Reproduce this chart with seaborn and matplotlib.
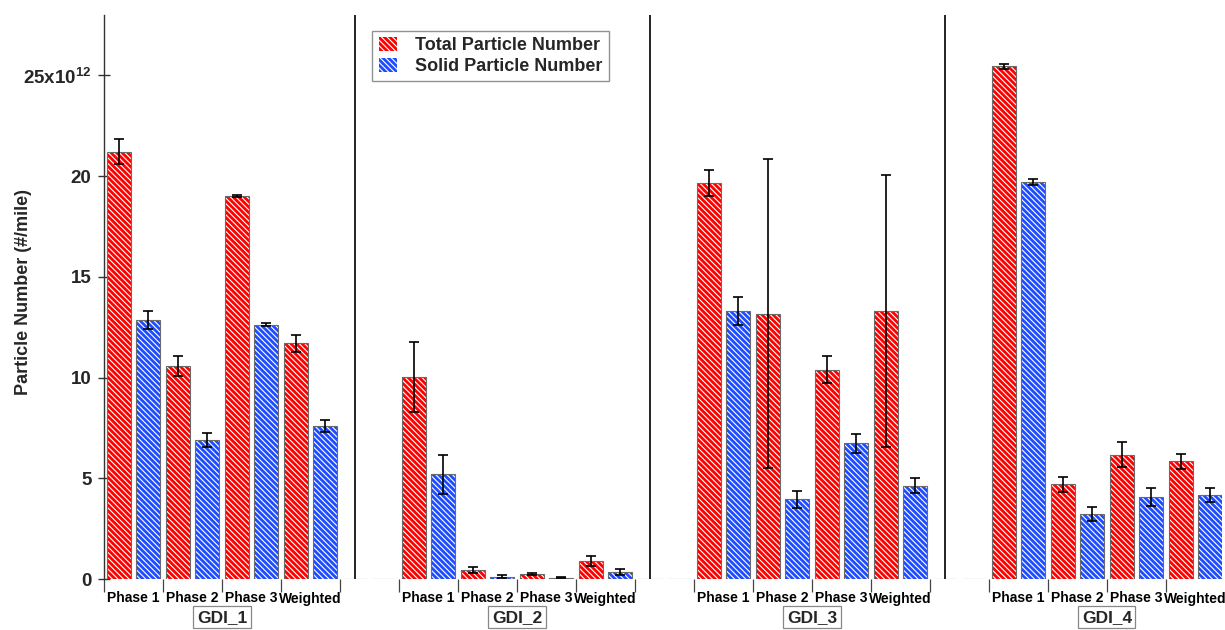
"""
Total vs solid particle number per test phase for four GDI vehicles.
Hatched bar chart with error bars, written to out.png.
"""

import matplotlib

matplotlib.use("Agg")
import matplotlib.pyplot as plt
import matplotlib.transforms as mtransforms
import numpy as np
import pandas as pd
import seaborn as sns
from matplotlib.patches import Patch, Rectangle

# values in units of 1e12 particles/mile
groups = ["GDI_1", "GDI_2", "GDI_3", "GDI_4"]
phases = ["Phase 1", "Phase 2", "Phase 3", "Weighted"]
series = ["Total Particle Number", "Solid Particle Number"]

total = [
    [21.2, 10.57, 19.02, 11.7],
    [10.03, 0.45, 0.25, 0.91],
    [19.66, 13.18, 10.4, 13.31],
    [25.45, 4.7, 6.17, 5.85],
]
total_err = [
    [0.62, 0.51, 0.05, 0.43],
    [1.74, 0.15, 0.03, 0.25],
    [0.63, 7.68, 0.68, 6.74],
    [0.13, 0.37, 0.62, 0.37],
]
solid = [
    [12.85, 6.9, 12.63, 7.59],
    [5.19, 0.11, 0.07, 0.36],
    [13.31, 3.95, 6.73, 4.63],
    [19.73, 3.22, 4.07, 4.15],
]
solid_err = [
    [0.45, 0.35, 0.08, 0.3],
    [0.95, 0.08, 0.02, 0.15],
    [0.68, 0.41, 0.49, 0.37],
    [0.15, 0.35, 0.45, 0.35],
]

y_ticks = [0, 5, 10, 15, 20, 25]
y_ticklabels = ["0", "5", "10", "15", "20", r"25x10$^{\mathbf{12}}$"]

COLORS = {series[0]: "#ff0000", series[1]: "#1e4cff"}
HATCH = "\\" * 6
GAP = "gap"


def build_frame():
    """Long table: one row per bar, with an empty slot after groups 1-3."""
    rows = []
    for g, name in enumerate(groups):
        for p, phase in enumerate(phases):
            slot = f"{name}|{phase}"
            rows.append((slot, name, phase, series[0], total[g][p], total_err[g][p]))
            rows.append((slot, name, phase, series[1], solid[g][p], solid_err[g][p]))
        if g < len(groups) - 1:
            slot = f"{name}|{GAP}"
            rows.append((slot, name, GAP, series[0], 0.0, np.nan))
            rows.append((slot, name, GAP, series[1], 0.0, np.nan))
    return pd.DataFrame(rows, columns=["slot", "group", "phase", "series", "value", "err"])


def main():
    sns.set_theme(style="white")
    plt.rcParams["font.family"] = ["Liberation Sans", "DejaVu Sans"]
    plt.rcParams["mathtext.fontset"] = "custom"
    plt.rcParams["mathtext.rm"] = "Liberation Sans"
    plt.rcParams["mathtext.bf"] = "Liberation Sans:bold"
    plt.rcParams["hatch.linewidth"] = 0.8

    df = build_frame()
    slots = list(dict.fromkeys(df["slot"]))

    fig, ax = plt.subplots(figsize=(12.25, 6.3), dpi=100)
    fig.subplots_adjust(left=104 / 1225, right=1222 / 1225, bottom=1 - 579 / 630, top=1 - 15 / 630)

    sns.barplot(
        data=df, x="slot", y="value", hue="series", order=slots, hue_order=series,
        palette=COLORS, saturation=1, width=1.0, gap=0.18, errorbar=None,
        legend=False, ax=ax,
    )

    # hatch in white, then a thin grey outline on top of each bar
    sep_x = []
    for container, name in zip(ax.containers, series):
        sub = df[df["series"] == name].reset_index(drop=True)
        for bar, (_, row) in zip(container, sub.iterrows()):
            bar.set_hatch(HATCH)
            bar.set_edgecolor("white")
            bar.set_linewidth(0)
            x0, y0 = bar.get_xy()
            w, h = bar.get_width(), bar.get_height()
            ax.add_patch(Rectangle((x0, y0), w, h, fill=False, edgecolor="#6a6a6a",
                                   linewidth=0.8, zorder=2.5))
            xc = x0 + w / 2
            if row["phase"] == GAP:
                if name == series[0]:
                    sep_x.append(xc)
                continue
            ax.errorbar(xc, row["value"], yerr=row["err"], fmt="none", ecolor="black",
                        elinewidth=1.2, capsize=3.6, capthick=1.2, zorder=3)

    for x in sep_x:
        ax.axvline(x, color="#222222", linewidth=1.4, zorder=1)

    # x axis: phase names under bars, boundary ticks, boxed group names
    real = [i for i, s in enumerate(slots) if not s.endswith(GAP)]
    ax.set_xticks(real)
    ax.set_xticklabels([slots[i].split("|")[1] for i in real], fontsize=10, fontweight="bold")
    bounds = sorted({i - 0.5 for i in real} | {i + 0.5 for i in real})
    ax.set_xticks(bounds, minor=True)
    ax.tick_params(axis="x", which="major", length=0, pad=9, colors="black")
    ax.tick_params(axis="x", which="minor", length=9, width=0.9, direction="out",
                   color="#444444", bottom=True)
    ax.set_xlabel("")
    ax.set_xlim(-0.5, 18.45)

    trans = mtransforms.blended_transform_factory(ax.transData, ax.transAxes)
    for name in groups:
        idx = [i for i in real if slots[i].startswith(name + "|")]
        ax.text(np.mean(idx), -0.068, name, transform=trans, ha="center", va="center",
                fontsize=12.5, fontweight="bold",
                bbox=dict(boxstyle="square,pad=0.2", facecolor="white",
                          edgecolor="#888888", linewidth=0.9))

    # y axis
    ax.set_ylim(0, 28)
    ax.set_yticks(y_ticks)
    ax.set_yticklabels(y_ticklabels, fontsize=13.5, fontweight="bold")
    ax.tick_params(axis="y", which="major", length=8, width=1.0, direction="inout",
                   left=True, pad=5, color="#333333")
    ax.set_ylabel("Particle Number (#/mile)", fontsize=13, fontweight="bold")
    ax.yaxis.set_label_coords(-0.064, 0.508)

    sns.despine(ax=ax, top=True, right=True, bottom=True)
    ax.spines["left"].set_color("#333333")
    ax.spines["left"].set_linewidth(1.0)

    handles = [Patch(facecolor=COLORS[s], edgecolor="white", hatch=HATCH, linewidth=0)
               for s in series]
    leg = ax.legend(handles, series, loc="upper left", bbox_to_anchor=(0.232, 0.988),
                    prop={"weight": "bold", "size": 13}, frameon=True, fancybox=False,
                    edgecolor="#777777", borderpad=0.35, handlelength=1.0,
                    handleheight=0.8, handletextpad=1.0, labelspacing=0.2)
    leg.get_frame().set_linewidth(1.0)

    fig.savefig("out.png", dpi=100)
    plt.close(fig)


if __name__ == "__main__":
    main()
